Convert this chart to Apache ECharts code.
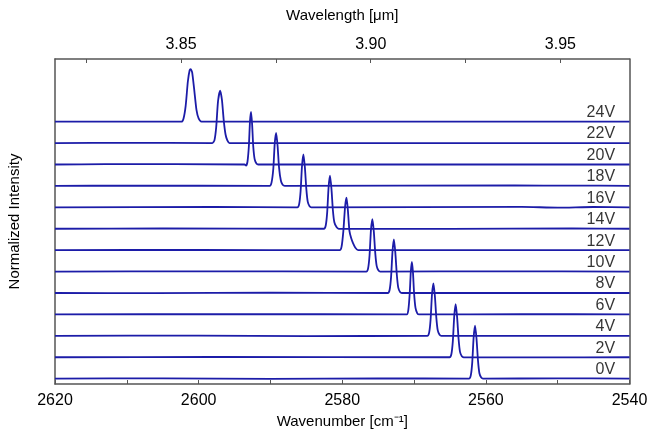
<!DOCTYPE html>
<html>
<head>
<meta charset="utf-8">
<script src="https://cdn.jsdelivr.net/npm/echarts@6/dist/echarts.min.js"></script>
<style>
  html, body { margin: 0; padding: 0; background: #fff; }
  #chart { width: 662px; height: 431px; }
</style>
</head>
<body>
<div id="chart"></div>
<script>
// voltages, bottom trace first
const voltages = ['0V', '2V', '4V', '6V', '8V', '10V', '12V', '14V', '16V', '18V', '20V', '22V', '24V']

// spectra: [wavenumber cm-1, normalized intensity]
const v0 = [[2620,0],[2605,0.006],[2590,-0.004],[2575,0.005],[2562.35,0],[2562.1,0.06],[2561.9,0.3],[2561.7,0.78],[2561.5,0.99],[2561.3,0.74],[2561.1,0.34],[2560.9,0.1],[2560.65,0.02],[2560.4,0],[2550,0.006],[2540,0]]
const v2 = [[2620,0],[2598,0.005],[2565.05,0],[2564.8,0.06],[2564.6,0.3],[2564.4,0.78],[2564.2,0.99],[2564.0,0.74],[2563.8,0.34],[2563.6,0.1],[2563.35,0.02],[2563.1,0],[2552,-0.004],[2540,0]]
const v4 = [[2620,0],[2600,0.004],[2585,-0.004],[2568.15,0],[2567.9,0.06],[2567.7,0.3],[2567.5,0.78],[2567.3,0.98],[2567.1,0.74],[2566.9,0.34],[2566.7,0.1],[2566.45,0.02],[2566.2,0],[2540,0]]
const v6 = [[2620,0],[2595,0.005],[2571.0,0],[2570.8,0.08],[2570.6,0.4],[2570.45,0.8],[2570.3,0.98],[2570.15,0.78],[2570.0,0.4],[2569.8,0.12],[2569.55,0.02],[2569.3,0],[2555,0.004],[2540,0]]
const v8 = [[2620,0],[2606,-0.004],[2590,0.005],[2573.65,0],[2573.4,0.06],[2573.2,0.3],[2573.0,0.78],[2572.8,1.0],[2572.6,0.74],[2572.4,0.34],[2572.2,0.1],[2571.95,0.02],[2571.7,0],[2540,0]]
const v10 = [[2620,0],[2600,0.005],[2576.65,0],[2576.4,0.06],[2576.2,0.3],[2576.0,0.78],[2575.8,0.98],[2575.6,0.74],[2575.4,0.34],[2575.2,0.1],[2574.95,0.02],[2574.7,0],[2558,0.005],[2540,0]]
const v12 = [[2620,0],[2600,0.004],[2580.35,0],[2580.1,0.06],[2579.85,0.35],[2579.6,0.82],[2579.4,0.98],[2579.2,0.72],[2579.0,0.36],[2578.75,0.22],[2578.5,0.13],[2578.2,0.05],[2577.8,0],[2540,0]]
const v14 = [[2620,0],[2605,0.005],[2582.55,0],[2582.3,0.06],[2582.1,0.3],[2581.9,0.78],[2581.7,0.99],[2581.5,0.74],[2581.3,0.34],[2581.1,0.12],[2580.8,0.03],[2580.5,0],[2565,-0.004],[2548,0.005],[2540,0]]
const v16 = [[2620,0],[2598,0.006],[2586.25,0],[2586.0,0.06],[2585.8,0.3],[2585.6,0.78],[2585.4,0.99],[2585.2,0.74],[2585.0,0.34],[2584.8,0.1],[2584.55,0.02],[2584.3,0],[2555,0.008],[2550,-0.006],[2545,0.006],[2540,0]]
const v18 = [[2620,0],[2610,0.005],[2590.1,0],[2589.85,0.06],[2589.6,0.32],[2589.4,0.8],[2589.2,0.99],[2589.0,0.74],[2588.8,0.34],[2588.55,0.1],[2588.3,0.02],[2588.0,0],[2556,0.007],[2548,0.006],[2540,0]]
const v20 = [[2620,0],[2613,0.006],[2593.6,0],[2593.4,-0.02],[2593.2,0.05],[2593.0,0.35],[2592.85,0.8],[2592.7,0.98],[2592.55,0.75],[2592.4,0.35],[2592.2,0.1],[2591.95,0.02],[2591.7,0],[2540,0]]
const v22 = [[2620,0],[2610,0.004],[2598.1,0],[2597.8,0.05],[2597.55,0.3],[2597.3,0.78],[2597.0,0.98],[2596.75,0.8],[2596.5,0.42],[2596.25,0.16],[2596.0,0.05],[2595.7,0],[2540,0]]
const v24 = [[2620,0],[2602.4,0],[2602.1,0.06],[2601.8,0.3],[2601.5,0.75],[2601.25,0.96],[2601.1,0.98],[2600.9,0.92],[2600.6,0.58],[2600.3,0.22],[2600.0,0.06],[2599.6,0],[2540,0]]
const spectra = [v0, v2, v4, v6, v8, v10, v12, v14, v16, v18, v20, v22, v24]

// tick values
const bottomTicks = [2540, 2550, 2560, 2570, 2580, 2590, 2600, 2610, 2620]
const bottomLabels = [2540, 2560, 2580, 2600, 2620]
const topTicks = [3.825, 3.85, 3.875, 3.9, 3.925, 3.95]
const topLabels = [3.85, 3.9, 3.95]

const STEP = 0.4          // vertical offset between traces
const LABEL_WN = 2542     // where the voltage labels end
const lineColor = '#1c1ca8'
const frameColor = '#555'
const font = 'Liberation Sans, Arial, sans-serif'

const series = []
spectra.forEach((s, i) => {
  series.push({
    name: voltages[i],
    type: 'line',
    showSymbol: false,
    smooth: 0.2,
    lineStyle: { color: lineColor, width: 1.8 },
    data: s.map(p => [p[0], p[1] + i * STEP]),
    silent: true,
    z: 2
  })
})
series.push({
  type: 'scatter',
  symbolSize: 0.1,
  itemStyle: { color: 'transparent' },
  silent: true,
  label: {
    show: true,
    position: 'left',
    distance: 0,
    offset: [0, -9],
    color: '#000',
    fontSize: 16,
    fontFamily: font,
    formatter: p => voltages[p.dataIndex]
  },
  data: voltages.map((v, i) => [LABEL_WN, i * STEP])
})

const chart = echarts.init(document.getElementById('chart'))
chart.setOption({
  animation: false,
  grid: { left: 55, right: 32.5, top: 59, bottom: 47, outerBoundsMode: 'none' },
  xAxis: [
    {
      type: 'value',
      position: 'bottom',
      min: 2540,
      max: 2620,
      inverse: true,
      name: 'Wavenumber [cm⁻¹]',
      nameLocation: 'middle',
      nameGap: 28,
      nameTextStyle: { color: '#000', fontSize: 15, fontFamily: font },
      axisLine: { onZero: false, lineStyle: { color: frameColor, width: 1.5 } },
      axisTick: { inside: true, length: 4, customValues: bottomTicks, lineStyle: { color: frameColor } },
      axisLabel: { customValues: bottomLabels, color: '#000', fontSize: 16, fontFamily: font, margin: 9, formatter: v => String(v) },
      splitLine: { show: false }
    },
    {
      type: 'value',
      position: 'top',
      min: 3.8168,
      max: 3.9682,
      name: 'Wavelength [μm]',
      nameLocation: 'middle',
      nameGap: 36,
      nameTextStyle: { color: '#000', fontSize: 15, fontFamily: font },
      axisLine: { onZero: false, lineStyle: { color: frameColor, width: 1.5 } },
      axisTick: { inside: true, length: 4, customValues: topTicks, lineStyle: { color: frameColor } },
      axisLabel: { customValues: topLabels, color: '#000', fontSize: 16, fontFamily: font, margin: 6, formatter: v => v.toFixed(2) },
      splitLine: { show: false }
    }
  ],
  yAxis: [
    {
      type: 'value',
      position: 'left',
      min: -0.1,
      max: 5.97,
      name: 'Normalized Intensity',
      nameLocation: 'middle',
      nameGap: 33,
      nameTextStyle: { color: '#000', fontSize: 15, fontFamily: font },
      axisLine: { show: true, onZero: false, lineStyle: { color: frameColor, width: 1.5 } },
      axisTick: { show: false },
      axisLabel: { show: false },
      splitLine: { show: false }
    },
    {
      type: 'value',
      position: 'right',
      min: -0.1,
      max: 5.97,
      axisLine: { show: true, onZero: false, lineStyle: { color: frameColor, width: 1.5 } },
      axisTick: { show: false },
      axisLabel: { show: false },
      splitLine: { show: false }
    }
  ],
  series: series
})
</script>
</body>
</html>
